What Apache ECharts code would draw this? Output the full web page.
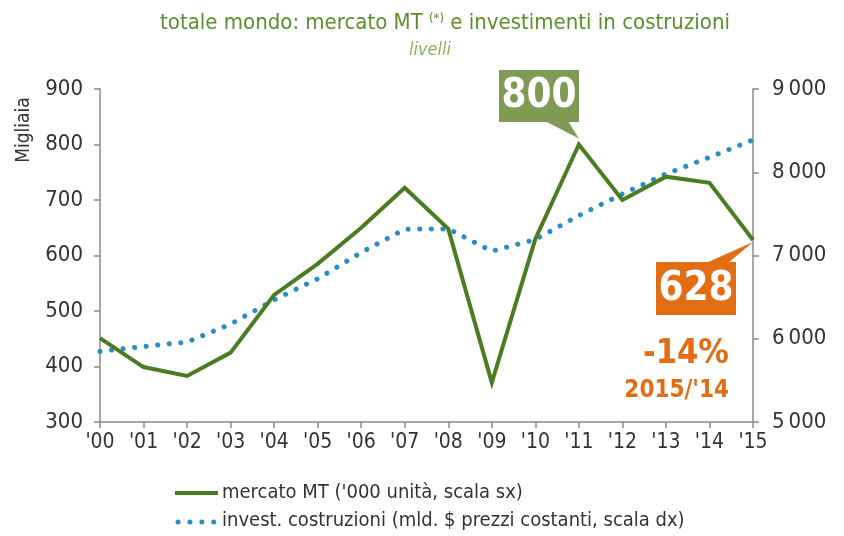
<!DOCTYPE html>
<html>
<head>
<meta charset="utf-8">
<script src="https://cdn.jsdelivr.net/npm/echarts@6/dist/echarts.min.js"></script>
<style>
  html, body { margin: 0; padding: 0; background: #fff; }
  #chart { width: 844px; height: 536px; }
</style>
</head>
<body>
<div id="chart"></div>
<script>
// dati
var anni = ["'00", "'01", "'02", "'03", "'04", "'05", "'06", "'07", "'08", "'09", "'10", "'11", "'12", "'13", "'14", "'15"];
var mercatoMT = [451, 399, 383, 425, 529, 585, 650, 722, 648, 371, 630, 800, 700, 742, 731, 628];
var investCostruzioni = [5848, 5908, 5960, 6176, 6468, 6720, 7036, 7316, 7320, 7052, 7192, 7480, 7740, 7980, 8180, 8388];
var nomiSerie = ["mercato MT ('000 unità, scala sx)", "invest. costruzioni (mld. $ prezzi costanti, scala dx)"];

var FONT = "'Liberation Sans Narrow', 'DejaVu Sans Condensed', sans-serif";
var VERDE = '#4b7b23';
var BLU = '#2b8cc4';
var ARANCIO = '#e36d12';
var GRIGIO = '#8a8a8a';

var chart = echarts.init(document.getElementById('chart'), null, { renderer: 'canvas' });

var option = {
    animation: false,
    textStyle: { fontFamily: FONT },
    title: [{
        text: 'totale mondo: mercato MT {s|(*)} e investimenti in costruzioni',
        left: 440, top: 7, textAlign: 'center',
        textStyle: {
            fontFamily: FONT, fontSize: 22, fontWeight: 'normal', color: '#5b8f2e',
            rich: { s: { fontFamily: FONT, fontSize: 13, color: '#5b8f2e', verticalAlign: 'top', padding: [0, 0, 10, 0] } }
        }
    }, {
        text: 'livelli',
        left: 425, top: 36, textAlign: 'center',
        textStyle: { fontFamily: FONT, fontSize: 18, fontWeight: 'normal', fontStyle: 'italic', color: '#8db35e' }
    }],
    grid: { left: 100, right: 91, top: 89, bottom: 114 },
    legend: { show: false },
    xAxis: {
        type: 'category', data: anni, boundaryGap: false,
        axisLine: { lineStyle: { color: GRIGIO, width: 1.5 } },
        axisTick: { show: true, length: 6, alignWithLabel: true, lineStyle: { color: GRIGIO, width: 1.5 } },
        axisLabel: { color: '#333', fontFamily: FONT, fontSize: 21, margin: 10, interval: 0 },
        splitLine: { show: false }
    },
    yAxis: [{
        type: 'value', min: 300, max: 900, interval: 100, position: 'left',
        axisLine: { show: true, lineStyle: { color: GRIGIO, width: 1.5 } },
        axisTick: { show: true, length: 6, lineStyle: { color: GRIGIO, width: 1.5 } },
        axisLabel: { color: '#333', fontFamily: FONT, fontSize: 22, margin: 17 },
        splitLine: { show: false }
    }, {
        type: 'value', min: 5000, max: 9000, interval: 1000, position: 'right',
        axisLine: { show: true, lineStyle: { color: GRIGIO, width: 1.5 } },
        axisTick: { show: true, length: 6, lineStyle: { color: GRIGIO, width: 1.5 } },
        axisLabel: {
            color: '#333', fontFamily: FONT, fontSize: 22, margin: 19,
            formatter: function (v) { return String(v).replace(/\B(?=(\d{3})+(?!\d))/g, '\u2009'); }
        },
        splitLine: { show: false }
    }],
    series: [{
        name: nomiSerie[1], type: 'line', yAxisIndex: 1, data: investCostruzioni,
        showSymbol: false, symbol: 'none', z: 2,
        lineStyle: { color: BLU, width: 5, type: [0.1, 11.5], cap: 'round' },
        itemStyle: { color: BLU }
    }, {
        name: nomiSerie[0], type: 'line', yAxisIndex: 0, data: mercatoMT,
        showSymbol: false, symbol: 'none', z: 3,
        lineStyle: { color: VERDE, width: 4, join: 'miter' },
        itemStyle: { color: VERDE }
    }]
};
chart.setOption(option);

// annotazioni (box con freccia)
var p11 = chart.convertToPixel({ xAxisIndex: 0, yAxisIndex: 0 }, [11, mercatoMT[11]]);
var p15 = chart.convertToPixel({ xAxisIndex: 0, yAxisIndex: 0 }, [15, mercatoMT[15]]);

var grafica = [
    {
        type: 'text', x: 24, y: 130, rotation: Math.PI / 2,
        style: { text: 'Migliaia', fill: '#333', font: '19px ' + FONT, align: 'center', verticalAlign: 'middle' }
    },
    // box 800
    { type: 'rect', shape: { x: 499, y: 70, width: 80, height: 52 }, style: { fill: '#7e9a55' } },
    { type: 'polygon', shape: { points: [[545, 121], [568, 121], [p11[0], p11[1] - 6]] }, style: { fill: '#7e9a55' } },
    { type: 'text', x: 539, y: 97, style: { text: '800', fill: '#fff', font: 'bold 40px ' + FONT, align: 'center', verticalAlign: 'middle' } },
    // box 628
    { type: 'rect', shape: { x: 656, y: 262, width: 80, height: 53 }, style: { fill: ARANCIO } },
    { type: 'polygon', shape: { points: [[706, 263], [728, 263], [p15[0], p15[1] + 2]] }, style: { fill: ARANCIO } },
    { type: 'text', x: 696, y: 290, style: { text: '628', fill: '#fff', font: 'bold 40px ' + FONT, align: 'center', verticalAlign: 'middle' } },
    // variazione
    { type: 'text', x: 729, y: 354, style: { text: '-14%', fill: ARANCIO, font: 'bold 34px ' + FONT, align: 'right', verticalAlign: 'middle' } },
    { type: 'text', x: 729, y: 391, style: { text: "2015/'14", fill: ARANCIO, font: 'bold 24px ' + FONT, align: 'right', verticalAlign: 'middle' } },
    // legenda
    { type: 'line', shape: { x1: 175, y1: 493, x2: 218, y2: 493 }, style: { stroke: VERDE, lineWidth: 4 } },
    { type: 'text', x: 222, y: 493, style: { text: nomiSerie[0], fill: '#333', font: '20px ' + FONT, verticalAlign: 'middle' } },
    { type: 'line', shape: { x1: 178, y1: 522, x2: 214, y2: 522 }, style: { stroke: BLU, lineWidth: 5, lineDash: [0.1, 11.8], lineCap: 'round' } },
    { type: 'text', x: 222, y: 521, style: { text: nomiSerie[1], fill: '#333', font: '20px ' + FONT, verticalAlign: 'middle' } }
];
chart.setOption({ graphic: grafica });
</script>
</body>
</html>
